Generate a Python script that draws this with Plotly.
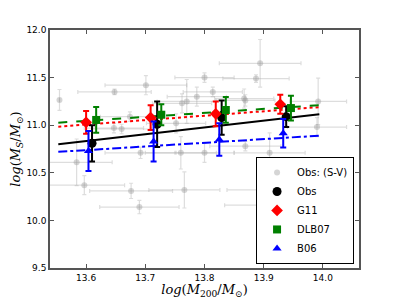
import plotly.graph_objects as go

# Gray observational points (S-V)
sv_x = [13.555, 13.648, 13.701, 13.770, 13.787, 13.800, 13.894, 13.887, 13.814, 13.867,
        13.992, 13.990, 13.584, 13.597, 13.676, 13.690, 13.766, 13.760, 13.692, 13.660,
        13.647, 13.800, 13.869, 13.910, 13.908, 13.894, 13.674, 13.752, 13.762, 13.869]
sv_y = [11.265, 11.35, 11.42, 11.25, 11.30, 11.50, 11.65, 11.49, 11.35, 11.28,
        11.25, 10.98, 10.61, 10.37, 10.31, 10.14, 10.32, 10.71, 10.71, 10.96,
        10.97, 10.71, 10.78, 10.71, 10.32, 10.16, 11.09, 11.02, 11.23, 11.26]
sv_xerr = [0.0, 0.062, 0.069, 0.05, 0.05, 0.05, 0.069, 0.056, 0.05, 0.05,
           0.048, 0.05, 0.06, 0.068, 0.07, 0.067, 0.06, 0.06, 0.06, 0.05,
           0.05, 0.05, 0.06, 0.06, 0.07, 0.06, 0.05, 0.05, 0.05, 0.05]
sv_yerr = [0.11, 0.03, 0.10, 0.23, 0.10, 0.05, 0.25, 0.04, 0.05, 0.10,
           0.245, 0.10, 0.245, 0.10, 0.08, 0.07, 0.19, 0.17, 0.06, 0.05,
           0.05, 0.10, 0.05, 0.21, 0.07, 0.06, 0.05, 0.10, 0.10, 0.06]

# Binned series
obs_x = [13.610, 13.720, 13.829, 13.938]
obs_y = [10.81, 11.01, 11.08, 11.09]
obs_e = [0.19, 0.24, 0.18, 0.11]

g11_x = [13.600, 13.709, 13.819, 13.928]
g11_y = [11.03, 11.08, 11.12, 11.22]
g11_e = [0.12, 0.13, 0.13, 0.10]

dlb_x = [13.617, 13.727, 13.836, 13.946]
dlb_y = [11.055, 11.11, 11.16, 11.18]
dlb_e = [0.135, 0.11, 0.135, 0.13]

b06_x = [13.604, 13.714, 13.825, 13.933]
b06_y = [10.73, 10.83, 10.85, 10.915]
b06_e = [0.21, 0.21, 0.17, 0.15]

# Fit lines (endpoints)
fit_x = [13.553, 13.994]
obs_fit = [10.80, 11.115]
g11_fit = [10.985, 11.19]
dlb_fit = [11.026, 11.21]
b06_fit = [10.72, 10.89]

fig = go.Figure()

fig.add_trace(go.Scatter(
    x=sv_x, y=sv_y, mode="markers", name="Obs: (S-V)",
    marker=dict(color="rgba(150,150,150,0.4)", size=6),
    error_x=dict(type="data", array=sv_xerr, color="rgba(170,170,170,0.4)", thickness=1.2, width=2),
    error_y=dict(type="data", array=sv_yerr, color="rgba(170,170,170,0.4)", thickness=1.2, width=2),
))

# fit lines
fig.add_trace(go.Scatter(x=fit_x, y=obs_fit, mode="lines", line=dict(color="black", width=2), showlegend=False))
fig.add_trace(go.Scatter(x=fit_x, y=g11_fit, mode="lines", line=dict(color="red", width=2, dash="dot"), showlegend=False))
fig.add_trace(go.Scatter(x=fit_x, y=dlb_fit, mode="lines", line=dict(color="green", width=2, dash="dash"), showlegend=False))
fig.add_trace(go.Scatter(x=fit_x, y=b06_fit, mode="lines", line=dict(color="blue", width=2, dash="dashdot"), showlegend=False))

def series(x, y, e, name, color, symbol, size):
    return go.Scatter(
        x=x, y=y, mode="markers", name=name,
        marker=dict(color=color, symbol=symbol, size=size, line=dict(color=color, width=0)),
        error_y=dict(type="data", array=e, color=color, thickness=2, width=3),
    )

fig.add_trace(series(obs_x, obs_y, obs_e, "Obs", "black", "circle", 9))
fig.add_trace(series(g11_x, g11_y, g11_e, "G11", "red", "diamond", 9))
fig.add_trace(series(dlb_x, dlb_y, dlb_e, "DLB07", "green", "square", 8))
fig.add_trace(series(b06_x, b06_y, b06_e, "B06", "blue", "triangle-up", 8))

axis_common = dict(
    showgrid=False, zeroline=False, showline=True, linecolor="#555", linewidth=1.5,
    mirror="ticks", ticks="inside", ticklen=4, tickcolor="#555", automargin=False,
    tickfont=dict(family="DejaVu Sans", size=9, color="black"),
)

fig.update_layout(
    width=391, height=291,
    margin=dict(l=42, r=40, t=22, b=31),
    paper_bgcolor="white", plot_bgcolor="white",
    xaxis=dict(range=[13.539, 14.061], tickvals=[13.6, 13.7, 13.8, 13.9, 14.0],
               ticktext=["13.6", "13.7", "13.8", "13.9", "14.0"],
               title=dict(text="<i>log</i>(<i>M</i><sub>200</sub>/<i>M</i><sub>⊙</sub>)",
                          font=dict(family="DejaVu Serif", size=13, color="black"), standoff=2),
               **axis_common),
    yaxis=dict(range=[9.5, 12.0], tickvals=[9.5, 10.0, 10.5, 11.0, 11.5, 12.0],
               ticktext=["9.5", "10.0", "10.5", "11.0", "11.5", "12.0"],
               title=dict(text="<i>log</i>(<i>M</i><sub><i>S</i></sub>/<i>M</i><sub>⊙</sub>)",
                          font=dict(family="DejaVu Serif", size=13, color="black"), standoff=4),
               **axis_common),
    legend=dict(x=0.984, y=0.017, xanchor="right", yanchor="bottom",
                bgcolor="white", bordercolor="black", borderwidth=1,
                font=dict(family="DejaVu Sans", size=10, color="black"),
                tracegroupgap=0, itemsizing="trace", itemwidth=30),
    showlegend=True,
)

fig.write_html("out.html")
